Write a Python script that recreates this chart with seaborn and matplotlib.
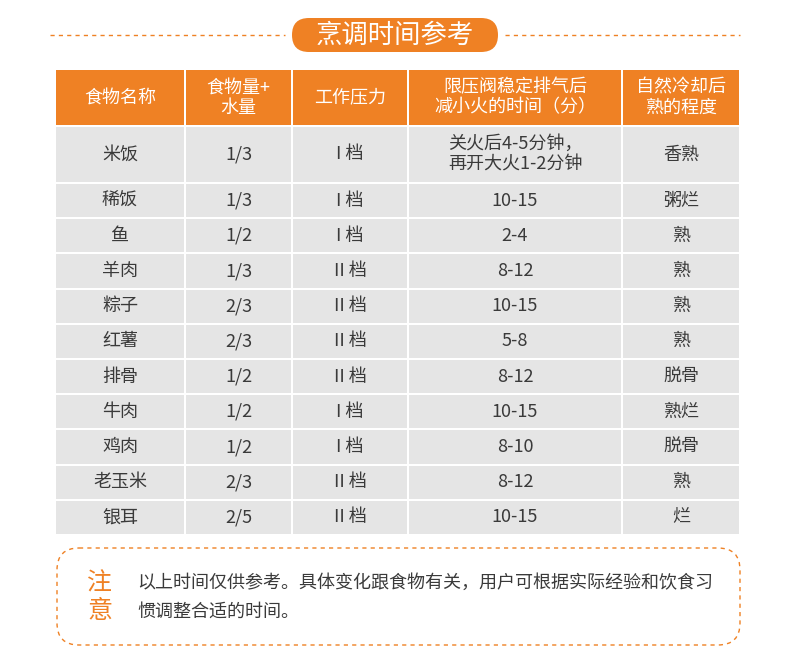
import matplotlib
matplotlib.use("Agg")
import matplotlib.pyplot as plt
from matplotlib.patches import Rectangle, FancyBboxPatch
import seaborn as sns

sns.set_theme(style="white")
plt.rcParams['font.family'] = ['Noto Sans CJK SC', 'DejaVu Sans']

title = "烹调时间参考"
headers = ["食物名称", "食物量+\n水量", "工作压力", "限压阀稳定排气后\n减小火的时间（分）", "自然冷却后\n熟的程度"]
foods = ["米饭", "稀饭", "鱼", "羊肉", "粽子", "红薯", "排骨", "牛肉", "鸡肉", "老玉米", "银耳"]
amounts = ["1/3", "1/3", "1/2", "1/3", "2/3", "2/3", "1/2", "1/2", "1/2", "2/3", "2/5"]
pressures = ["I 档", "I 档", "I 档", "II 档", "II 档", "II 档", "II 档", "I 档", "I 档", "II 档", "II 档"]
times = ["关火后4-5分钟，\n再开大火1-2分钟", "10-15", "2-4", "8-12", "10-15", "5-8", "8-12", "10-15", "8-10", "8-12", "10-15"]
results = ["香熟", "粥烂", "熟", "熟", "熟", "熟", "脱骨", "熟烂", "脱骨", "熟", "烂"]
note = "以上时间仅供参考。具体变化跟食物有关，用户可根据实际经验和饮食习\n惯调整合适的时间。"

ORANGE = "#ef8124"
GRAY = "#e5e5e5"
TXT = "#3a3a3a"

fig = plt.figure(figsize=(7.9, 6.57), dpi=100)
ax = fig.add_axes([0, 0, 1, 1])
ax.set_xlim(0, 790); ax.set_ylim(657, 0); ax.axis("off")

# title
ax.plot([50, 285], [35, 35], ls=(0, (3, 3)), color=ORANGE, lw=1)
ax.plot([505, 740], [35, 35], ls=(0, (3, 3)), color=ORANGE, lw=1)
ax.add_patch(FancyBboxPatch((292, 18), 206, 34, boxstyle="round,pad=0,rounding_size=17", fc=ORANGE, ec="none"))
ax.text(395, 35, title, ha="center", va="center", color="white", fontsize=19)

cols = [55, 185, 292, 408, 622, 740]
gap = 2
# header
for i in range(5):
    ax.add_patch(Rectangle((cols[i] + gap / 2, 70), cols[i + 1] - cols[i] - gap, 55, fc=ORANGE, ec="none"))
    ax.text((cols[i] + cols[i + 1]) / 2, 97.5, headers[i], ha="center", va="center", color="white", fontsize=13, linespacing=1.15)

rows_y = [127, 184] + [184 + 35.2 * k for k in range(1, 11)]
rows_h = [55] + [33.2] * 10
data = [foods, amounts, pressures, times, results]
for r in range(11):
    y, h = rows_y[r], rows_h[r]
    for i in range(5):
        ax.add_patch(Rectangle((cols[i] + gap / 2, y), cols[i + 1] - cols[i] - gap, h, fc=GRAY, ec="none"))
        ax.text((cols[i] + cols[i + 1]) / 2, y + h / 2, data[i][r], ha="center", va="center", color=TXT, fontsize=13, linespacing=1.2)

# note box
ax.add_patch(FancyBboxPatch((57, 548), 683, 97, boxstyle="round,pad=0,rounding_size=22", fc="white", ec=ORANGE, lw=1, ls=(0, (3, 3))))
ax.text(100, 584, "注", ha="center", va="center", color=ORANGE, fontsize=18)
ax.text(100, 611, "意", ha="center", va="center", color=ORANGE, fontsize=18)
ax.text(137, 597, note, ha="left", va="center", color=TXT, fontsize=13, linespacing=1.75)

fig.savefig("out.png", dpi=100)
